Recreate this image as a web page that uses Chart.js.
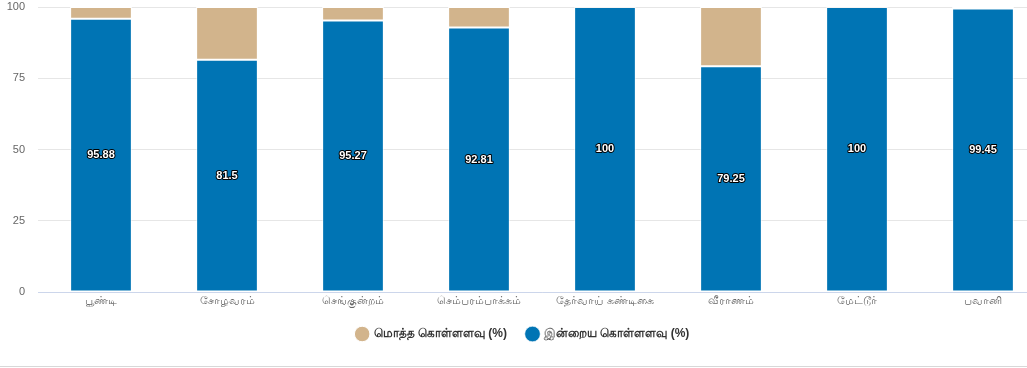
<!DOCTYPE html>
<html>
<head>
<meta charset="utf-8">
<script src="https://cdn.jsdelivr.net/npm/chart.js@4.4.0/dist/chart.umd.min.js"></script>
<style>
  html, body { margin: 0; padding: 0; background: #fff; overflow: hidden; }
  #wrap { position: relative; width: 1054px; height: 366px; border-bottom: 1px solid #d8d8d8; }
  canvas { display: block; }
</style>
</head>
<body>
<div id="wrap"><canvas id="damChart" width="1054" height="366"></canvas></div>
<script>
// Data
const reservoirs = ['பூண்டி', 'சோழவரம்', 'செங்குன்றம்', 'செம்பரம்பாக்கம்', 'தேர்வாய் கண்டிகை', 'வீராணம்', 'மேட்டூர்', 'பவானி'];
const todayLevel = [95.88, 81.5, 95.27, 92.81, 100, 79.25, 100, 99.45];
const totalLevel = [4.12, 18.5, 4.73, 7.19, 0, 20.75, 0, 0.55];
const yTicks = [0, 25, 50, 75, 100];

const blue = '#0074b4';
const tan = '#d2b48c';

// draw value labels in the middle of the blue bars
const barLabels = {
    id: 'barLabels',
    afterDatasetsDraw(chart) {
        const ctx = chart.ctx;
        const meta = chart.getDatasetMeta(0);
        ctx.save();
        ctx.font = 'bold 11px "Liberation Sans", Arial, sans-serif';
        ctx.textAlign = 'center';
        ctx.textBaseline = 'middle';
        ctx.lineJoin = 'round';
        meta.data.forEach((bar, i) => {
            const y = (bar.y + bar.base) / 2;
            const txt = String(todayLevel[i]);
            ctx.lineWidth = 2;
            ctx.strokeStyle = '#000';
            ctx.strokeText(txt, bar.x, y);
            ctx.fillStyle = '#fff';
            ctx.fillText(txt, bar.x, y);
        });
        ctx.restore();
    }
};

const ctx = document.getElementById('damChart').getContext('2d');
const damChart = new Chart(ctx, {
    type: 'bar',
    data: {
        labels: reservoirs,
        datasets: [{
            label: 'இன்றைய கொள்ளளவு (%)',
            data: todayLevel,
            backgroundColor: blue,
            borderColor: 'rgba(255,255,255,0.6)',
            borderWidth: 1,
            borderSkipped: false
        }, {
            label: 'மொத்த கொள்ளளவு (%)',
            data: totalLevel,
            backgroundColor: tan,
            borderColor: '#ffffff',
            borderWidth: 1,
            borderSkipped: false
        }]
    },
    options: {
        responsive: false,
        animation: false,
        devicePixelRatio: 1,
        layout: { padding: { top: 7, right: 8, left: 0, bottom: 16 } },
        datasets: { bar: { categoryPercentage: 1, barPercentage: 0.49 } },
        scales: {
            x: {
                stacked: true,
                grid: { display: false },
                border: { display: true, color: '#ccd6eb' },
                ticks: { color: '#666', font: { size: 11, family: 'sans-serif' }, padding: -6, maxRotation: 0, autoSkip: false },
                afterFit: (s) => { s.height = 16; }
            },
            y: {
                stacked: true,
                min: 0,
                max: 100,
                afterBuildTicks: (s) => { s.ticks = yTicks.map(v => ({ value: v })); },
                grid: { color: '#e6e6e6', drawTicks: false },
                border: { display: false },
                ticks: { color: '#666', font: { size: 11, family: 'sans-serif' }, padding: 13 },
                afterFit: (s) => { s.width = 38; s.paddingTop = 0; s.paddingBottom = 0; }
            }
        },
        plugins: {
            legend: {
                position: 'bottom',
                reverse: true,
                labels: {
                    usePointStyle: true,
                    pointStyle: 'circle',
                    boxWidth: 11,
                    boxHeight: 11,
                    padding: 20,
                    color: '#333',
                    font: { size: 12, weight: 'bold', family: 'sans-serif' }
                }
            },
            tooltip: { enabled: false }
        }
    },
    plugins: [barLabels]
});
</script>
</body>
</html>
